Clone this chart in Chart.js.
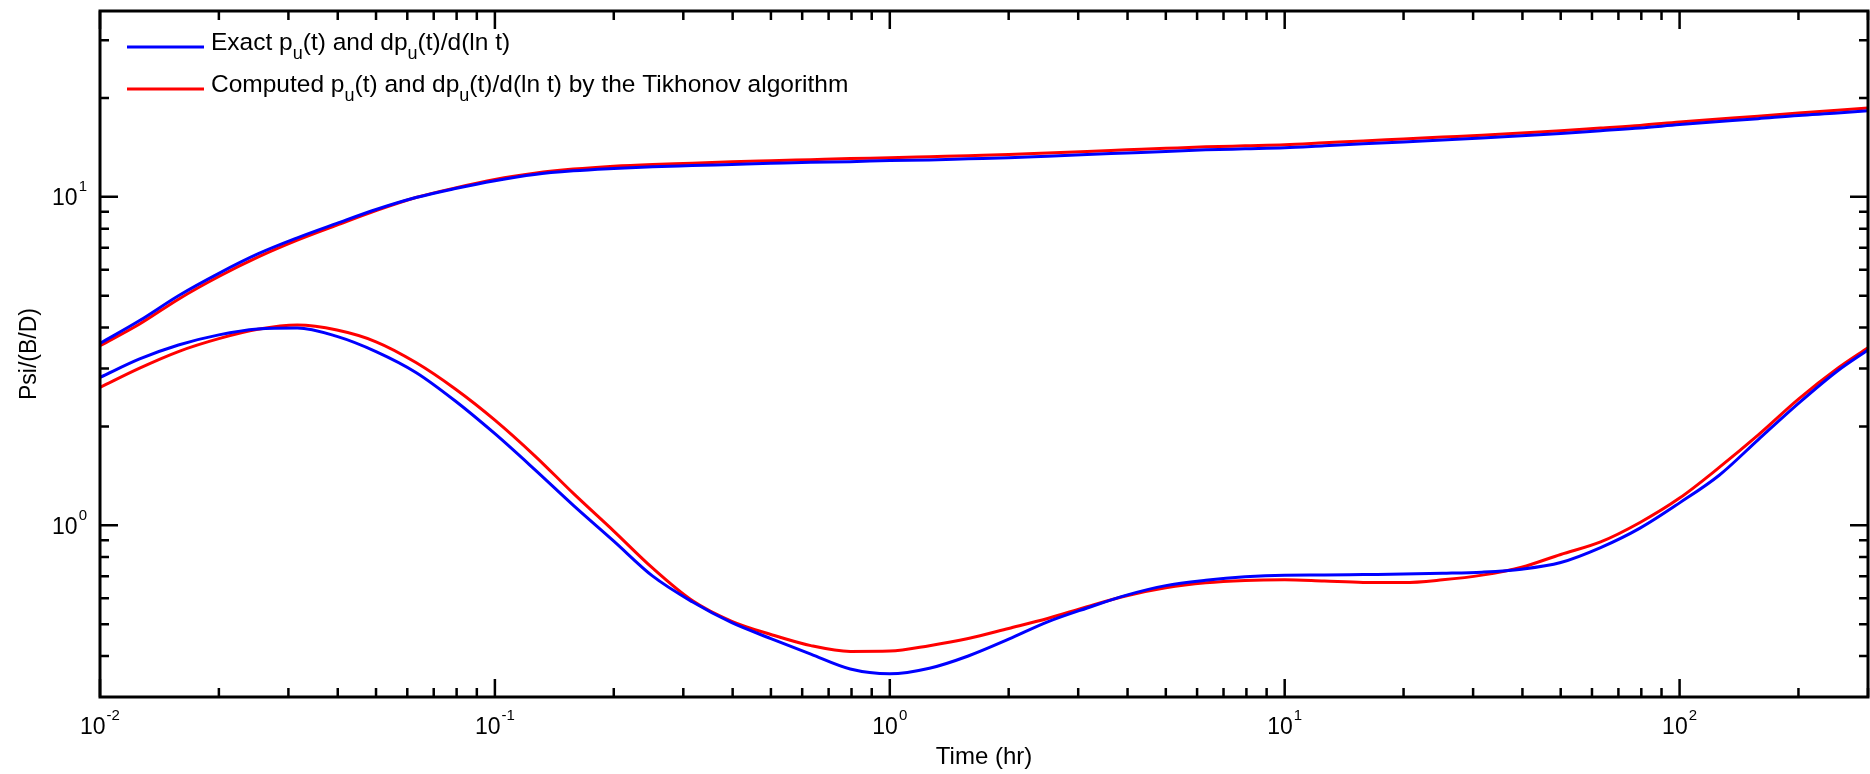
<!DOCTYPE html>
<html>
<head>
<meta charset="utf-8">
<script src="https://cdn.jsdelivr.net/npm/chart.js@4/dist/chart.umd.min.js"></script>
<style>
  html, body { margin: 0; padding: 0; background: #fff; }
  #wrap { width: 1870px; height: 774px; }
</style>
</head>
<body>
<div id="wrap"><canvas id="c" width="1870" height="774"></canvas></div>
<script>
// ---- Data ----
const times = [0.01, 0.0126, 0.0158, 0.02, 0.0251, 0.0316, 0.0398, 0.05, 0.0631, 0.0794,
  0.1, 0.126, 0.158, 0.2, 0.251, 0.316, 0.398, 0.5, 0.631, 0.794,
  1, 1.26, 1.58, 2, 2.51, 3.16, 3.98, 5, 6.31, 7.94,
  10, 12.6, 15.8, 20, 25.1, 31.6, 39.8, 50, 63.1, 79.4,
  100, 126, 158, 200, 251, 300];

const exactPressure = [3.58, 4.2, 5.0, 5.85, 6.7, 7.5, 8.3, 9.15, 9.95, 10.6,
  11.2, 11.7, 12.0, 12.2, 12.35, 12.45, 12.55, 12.65, 12.75, 12.8,
  12.9, 12.95, 13.05, 13.15, 13.3, 13.45, 13.6, 13.75, 13.9, 14.0,
  14.1, 14.3, 14.5, 14.7, 14.9, 15.1, 15.35, 15.6, 15.9, 16.2,
  16.6, 16.95, 17.3, 17.7, 18.0, 18.3];

const exactDerivative = [2.82, 3.21, 3.54, 3.80, 3.96, 3.99, 3.76, 3.38, 2.92, 2.39,
  1.90, 1.48, 1.15, 0.895, 0.70, 0.585, 0.505, 0.452, 0.405, 0.365,
  0.353, 0.367, 0.40, 0.45, 0.508, 0.56, 0.613, 0.655, 0.68, 0.697,
  0.705, 0.706, 0.708, 0.71, 0.714, 0.72, 0.735, 0.77, 0.855, 0.98,
  1.17, 1.42, 1.82, 2.35, 2.95, 3.42];

const computedPressure = [3.52, 4.1, 4.88, 5.72, 6.55, 7.38, 8.2, 9.08, 9.95, 10.65,
  11.3, 11.8, 12.15, 12.4, 12.55, 12.65, 12.78, 12.88, 12.98, 13.08,
  13.15, 13.25, 13.35, 13.45, 13.6, 13.75, 13.9, 14.05, 14.2, 14.3,
  14.4, 14.6, 14.8, 15.0, 15.2, 15.4, 15.65, 15.9, 16.2, 16.5,
  16.9, 17.25, 17.6, 18.0, 18.35, 18.65];

const computedDerivative = [2.63, 3.01, 3.38, 3.70, 3.95, 4.07, 3.93, 3.62, 3.13, 2.6,
  2.09, 1.63, 1.25, 0.96, 0.74, 0.59, 0.51, 0.465, 0.43, 0.413,
  0.414, 0.43, 0.452, 0.485, 0.52, 0.565, 0.61, 0.645, 0.668, 0.679,
  0.682, 0.676, 0.670, 0.669, 0.682, 0.705, 0.745, 0.815, 0.89, 1.02,
  1.21, 1.5, 1.88, 2.42, 3.0, 3.47];

const xTickValues = [0.01, 0.1, 1, 10, 100];
const xTickExponents = ['-2', '-1', '0', '1', '2'];
const yTickValues = [1, 10];
const yTickExponents = ['0', '1'];
const tickBase = '10';
const xRange = [0.01, 300];
const yRange = [0.3162, 36.8];

const legendEntries = [
  { color: '#0000FF', parts: [['Exact p', 0], ['u', 1], ['(t) and dp', 0], ['u', 1], ['(t)/d(ln t)', 0]] },
  { color: '#FF0000', parts: [['Computed p', 0], ['u', 1], ['(t) and dp', 0], ['u', 1], ['(t)/d(ln t) by the Tikhonov algorithm', 0]] }
];

// ---- Chart ----
const FONT = '"Liberation Sans", Arial, Helvetica, sans-serif';
const pts = arr => times.map((t, i) => ({ x: t, y: arr[i] }));
const lineDs = (arr, color) => ({
  data: pts(arr), borderColor: color, backgroundColor: color, borderWidth: 3,
  pointRadius: 0, cubicInterpolationMode: 'monotone', fill: false
});

function minorTicks(min, max) {
  const out = [];
  for (let d = Math.floor(Math.log10(min)); d <= Math.ceil(Math.log10(max)); d++) {
    for (let k = 2; k <= 9; k++) {
      const v = k * Math.pow(10, d);
      if (v >= min * 0.999 && v <= max * 1.001) out.push(v);
    }
  }
  return out;
}

function powerLabel(ctx, base, exp, x, baseline, align) {
  ctx.font = '23px ' + FONT;
  const wb = ctx.measureText(base).width;
  ctx.font = '15px ' + FONT;
  const we = ctx.measureText(exp).width;
  const gap = 1;
  const w = wb + gap + we;
  const x0 = align === 'center' ? x - w / 2 : x - w;
  ctx.textAlign = 'left';
  ctx.textBaseline = 'alphabetic';
  ctx.font = '23px ' + FONT;
  ctx.fillText(base, x0, baseline);
  ctx.font = '15px ' + FONT;
  ctx.fillText(exp, x0 + wb + gap, baseline - 14);
}

const framePlugin = {
  id: 'frame',
  afterDatasetsDraw(chart) {
    const { ctx, chartArea: a, scales: { x, y } } = chart;
    ctx.save();
    ctx.strokeStyle = '#000';
    ctx.lineCap = 'butt';
    const MAJ = 18, MIN = 9;
    ctx.lineWidth = 2.5;
    ctx.beginPath();
    const xt = (v, len) => {
      const px = x.getPixelForValue(v);
      ctx.moveTo(px, a.bottom); ctx.lineTo(px, a.bottom - len);
      ctx.moveTo(px, a.top); ctx.lineTo(px, a.top + len);
    };
    const yt = (v, len) => {
      const py = y.getPixelForValue(v);
      ctx.moveTo(a.left, py); ctx.lineTo(a.left + len, py);
      ctx.moveTo(a.right, py); ctx.lineTo(a.right - len, py);
    };
    xTickValues.forEach(v => xt(v, MAJ));
    minorTicks(xRange[0], xRange[1]).forEach(v => xt(v, MIN));
    yTickValues.forEach(v => yt(v, MAJ));
    minorTicks(yRange[0], yRange[1]).forEach(v => yt(v, MIN));
    ctx.stroke();
    ctx.lineWidth = 3;
    ctx.strokeRect(a.left, a.top, a.right - a.left, a.bottom - a.top);

    // tick labels (10 with superscript exponent)
    ctx.fillStyle = '#000';
    xTickValues.forEach((v, i) => {
      powerLabel(ctx, tickBase, xTickExponents[i], x.getPixelForValue(v), a.bottom + 37, 'center');
    });
    yTickValues.forEach((v, i) => {
      powerLabel(ctx, tickBase, yTickExponents[i], a.left - 13, y.getPixelForValue(v) + 8.5, 'right');
    });

    // legend
    const lx0 = a.left + 27, lx1 = a.left + 104, tx = a.left + 111;
    legendEntries.forEach((e, i) => {
      const ly = a.top + 36 + i * 42;
      ctx.strokeStyle = e.color;
      ctx.lineWidth = 3;
      ctx.beginPath(); ctx.moveTo(lx0, ly); ctx.lineTo(lx1, ly); ctx.stroke();
      ctx.fillStyle = '#000';
      ctx.textBaseline = 'alphabetic';
      ctx.textAlign = 'left';
      let cx = tx;
      e.parts.forEach(([txt, sub]) => {
        ctx.font = (sub ? '18px ' : '24.5px ') + FONT;
        ctx.fillText(txt, cx, ly + 3 + (sub ? 9 : 0));
        cx += ctx.measureText(txt).width;
      });
    });
    ctx.restore();
  }
};

new Chart(document.getElementById('c'), {
  type: 'line',
  data: {
    datasets: [
      lineDs(exactPressure, '#0000FF'),
      lineDs(exactDerivative, '#0000FF'),
      lineDs(computedPressure, '#FF0000'),
      lineDs(computedDerivative, '#FF0000')
    ]
  },
  options: {
    responsive: false,
    animation: false,
    devicePixelRatio: 1,
    layout: { padding: { top: 11, right: 2, left: 0, bottom: 0 } },
    plugins: { legend: { display: false }, tooltip: { enabled: false } },
    scales: {
      x: {
        type: 'logarithmic', min: xRange[0], max: xRange[1],
        grid: { display: false, drawTicks: false }, border: { display: false },
        afterBuildTicks: s => { s.ticks = xTickValues.map(v => ({ value: v })); },
        afterFit: s => { s.height = 77; s.paddingLeft = 0; s.paddingRight = 0; },
        ticks: { display: false, autoSkip: false },
        title: { display: true, text: 'Time (hr)', color: '#000', font: { family: FONT, size: 24 }, padding: { top: 0, bottom: 2 } }
      },
      y: {
        type: 'logarithmic', min: yRange[0], max: yRange[1],
        grid: { display: false, drawTicks: false }, border: { display: false },
        afterBuildTicks: s => { s.ticks = yTickValues.map(v => ({ value: v })); },
        afterFit: s => { s.width = 100; s.paddingTop = 0; s.paddingBottom = 0; },
        ticks: { display: false, autoSkip: false },
        title: { display: true, text: 'Psi/(B/D)', color: '#000', font: { family: FONT, size: 23 }, padding: { top: 16, bottom: 0 } }
      }
    }
  },
  plugins: [framePlugin]
});
</script>
</body>
</html>
